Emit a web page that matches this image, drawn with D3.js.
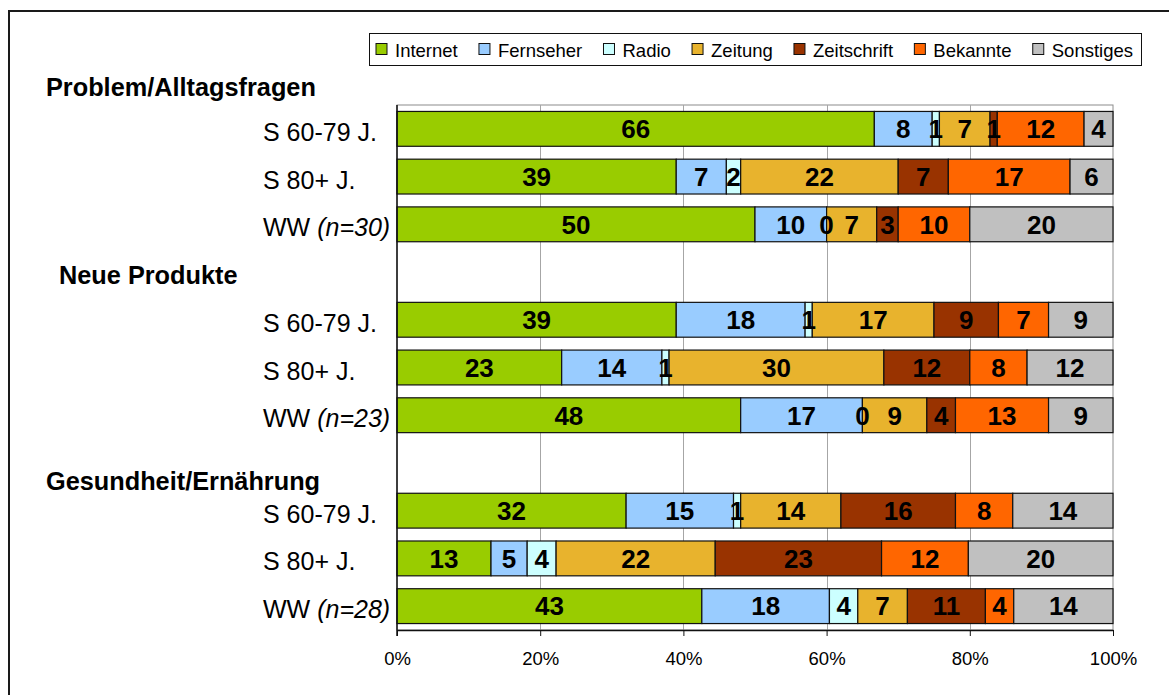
<!DOCTYPE html>
<html>
<head>
<meta charset="utf-8">
<script src="https://cdn.jsdelivr.net/npm/d3@7"></script>
<style>
  html, body { margin: 0; padding: 0; background: #fff; }
  svg { display: block; font-family: "Liberation Sans", Arial, sans-serif; }
</style>
</head>
<body>
<svg id="chart" width="1169" height="695"></svg>
<script>
// Information sources per topic and respondent group (shares in %)
const series = ["Internet", "Fernseher", "Radio", "Zeitung", "Zeitschrift", "Bekannte", "Sonstiges"];
const colors = ["#99CC00", "#99CCFF", "#CCFFFF", "#E8B32D", "#993300", "#FF6600", "#C0C0C0"];
const topics = ["Problem/Alltagsfragen", "Neue Produkte", "Gesundheit/Ernährung"];
const respondents = ["S 60-79 J.", "S 80+ J.", "WW"];
const sampleSizes = [30, 23, 28];

// one value per bar: topic-major, respondent-minor
const internet    = [66, 39, 50, 39, 23, 48, 32, 13, 43];
const fernseher   = [ 8,  7, 10, 18, 14, 17, 15,  5, 18];
const radio       = [ 1,  2,  0,  1,  1,  0,  1,  4,  4];
const zeitung     = [ 7, 22,  7, 17, 30,  9, 14, 22,  7];
const zeitschrift = [ 1,  7,  3,  9, 12,  4, 16, 23, 11];
const bekannte    = [12, 17, 10,  7,  8, 13,  8, 12,  4];
const sonstiges   = [ 4,  6, 20,  9, 12,  9, 14, 20, 14];

const xTicks = [0, 0.2, 0.4, 0.6, 0.8, 1];

// ---- table built from the arrays above ----
const valueLists = [internet, fernseher, radio, zeitung, zeitschrift, bekannte, sonstiges];
const rows = [];
topics.forEach((t, ti) => {
  respondents.forEach((r, ri) => {
    const i = ti * respondents.length + ri;
    const row = { key: `t${ti}r${ri}`, topic: ti, resp: ri };
    series.forEach((s, si) => { row[s] = valueLists[si][i]; });
    rows.push(row);
  });
});

// band domain with an empty slot between topics
const bandKeys = [];
topics.forEach((t, ti) => {
  if (ti > 0) bandKeys.push(`gap${ti}`);
  respondents.forEach((r, ri) => bandKeys.push(`t${ti}r${ri}`));
});

const svg = d3.select("#chart");
const W = 1169, H = 695;

// outer frame
svg.append("path")
  .attr("d", `M9,${H + 2} V11 H${W + 2}`)
  .attr("fill", "none")
  .attr("stroke", "#1a1a1a")
  .attr("stroke-width", 2);

const plot = { left: 397, right: 1113, top: 105, bottom: 630 };

const x = d3.scaleLinear().domain([0, 1]).range([plot.left, plot.right]);
const y = d3.scaleBand().domain(bandKeys).range([plot.top, plot.bottom])
  .paddingInner(0.27).paddingOuter(0.135);
const color = d3.scaleOrdinal().domain(series).range(colors);

const stack = d3.stack().keys(series).offset(d3.stackOffsetExpand);
const stacked = stack(rows);

// plot area frame and gridlines
const g = svg.append("g");
g.append("rect")
  .attr("x", plot.left).attr("y", plot.top)
  .attr("width", plot.right - plot.left).attr("height", plot.bottom - plot.top)
  .attr("fill", "none").attr("stroke", "#8c8c8c").attr("stroke-width", 1);

g.selectAll("line.grid")
  .data(xTicks.slice(1, -1))
  .join("line")
  .attr("class", "grid")
  .attr("x1", d => Math.round(x(d)) + 0.5).attr("x2", d => Math.round(x(d)) + 0.5)
  .attr("y1", plot.top).attr("y2", plot.bottom)
  .attr("stroke", "#a6a6a6").attr("stroke-width", 1);

// bars
const layers = g.selectAll("g.layer")
  .data(stacked)
  .join("g")
  .attr("class", "layer")
  .attr("fill", d => color(d.key));

layers.selectAll("rect")
  .data(d => d)
  .join("rect")
  .attr("x", d => x(d[0]))
  .attr("y", d => y(d.data.key))
  .attr("width", d => Math.max(0, x(d[1]) - x(d[0])))
  .attr("height", y.bandwidth())
  .attr("stroke", "#111")
  .attr("stroke-width", 1.2);

// value labels
stacked.forEach(layer => {
  g.selectAll(null)
    .data(layer)
    .join("text")
    .attr("x", d => (x(d[0]) + x(d[1])) / 2)
    .attr("y", d => y(d.data.key) + y.bandwidth() / 2)
    .attr("dy", "0.36em")
    .attr("text-anchor", "middle")
    .attr("font-weight", "bold")
    .attr("font-size", 26)
    .attr("fill", "#000")
    .text(d => d.data[layer.key]);
});

// x axis
const xAxis = d3.axisBottom(x)
  .tickValues(xTicks)
  .tickFormat(d3.format(".0%"))
  .tickSize(6)
  .tickSizeOuter(0);
const ax = svg.append("g")
  .attr("transform", `translate(0,${plot.bottom})`)
  .call(xAxis);
ax.select(".domain").attr("stroke", "#111").attr("stroke-width", 1.5);
ax.selectAll(".tick line").attr("stroke", "#111");
ax.selectAll(".tick text")
  .attr("font-family", "Liberation Sans, Arial, sans-serif")
  .attr("font-size", 18.5)
  .attr("fill", "#000")
  .attr("y", 22)
  .attr("dy", "0.71em");

// y axis line
svg.append("line")
  .attr("x1", plot.left).attr("x2", plot.left)
  .attr("y1", plot.top).attr("y2", plot.bottom + 6)
  .attr("stroke", "#111").attr("stroke-width", 1.5);

// respondent labels
rows.forEach(r => {
  const t = svg.append("text")
    .attr("x", 263)
    .attr("y", y(r.key) + y.bandwidth() / 2 + 3)
    .attr("dy", "0.36em")
    .attr("font-size", 25)
    .attr("fill", "#000");
  t.append("tspan").text(respondents[r.resp]);
  if (r.resp === 2) {
    t.append("tspan").text(" ");
    t.append("tspan").attr("font-style", "italic").text(`(n=${sampleSizes[r.topic]})`);
  }
});

// topic headings, placed above each topic's first bar
const headingX = [46, 59, 46];
const headingDy = [-15, -18, -3];
topics.forEach((t, ti) => {
  svg.append("text")
    .attr("x", headingX[ti])
    .attr("y", y(`t${ti}r0`) + headingDy[ti])
    .attr("font-size", 25.3)
    .attr("font-weight", "bold")
    .attr("fill", "#000")
    .text(t);
});

// legend
const legend = svg.append("g");
const legBox = { x: 369, y: 33, w: 772, h: 32 };
legend.append("rect")
  .attr("x", legBox.x + 0.5).attr("y", legBox.y + 0.5)
  .attr("width", legBox.w).attr("height", legBox.h)
  .attr("fill", "#fff").attr("stroke", "#111").attr("stroke-width", 1);

const items = legend.selectAll("g.item")
  .data(series)
  .join("g")
  .attr("class", "item");
items.append("rect")
  .attr("width", 11).attr("height", 11)
  .attr("y", legBox.y + legBox.h / 2 - 5.5)
  .attr("fill", d => color(d))
  .attr("stroke", "#111").attr("stroke-width", 1);
items.append("text")
  .attr("x", 19)
  .attr("y", legBox.y + legBox.h / 2 + 1)
  .attr("dy", "0.36em")
  .attr("font-size", 18.5)
  .attr("fill", "#000")
  .text(d => d);

const widths = [];
items.each(function () { widths.push(19 + this.querySelector("text").getComputedTextLength()); });
const padL = 7, padR = 8;
const gap = (legBox.w - padL - padR - d3.sum(widths)) / (series.length - 1);
let cx = legBox.x + padL;
items.each(function (d, i) {
  d3.select(this).attr("transform", `translate(${cx},0)`);
  cx += widths[i] + gap;
});
</script>
</body>
</html>
